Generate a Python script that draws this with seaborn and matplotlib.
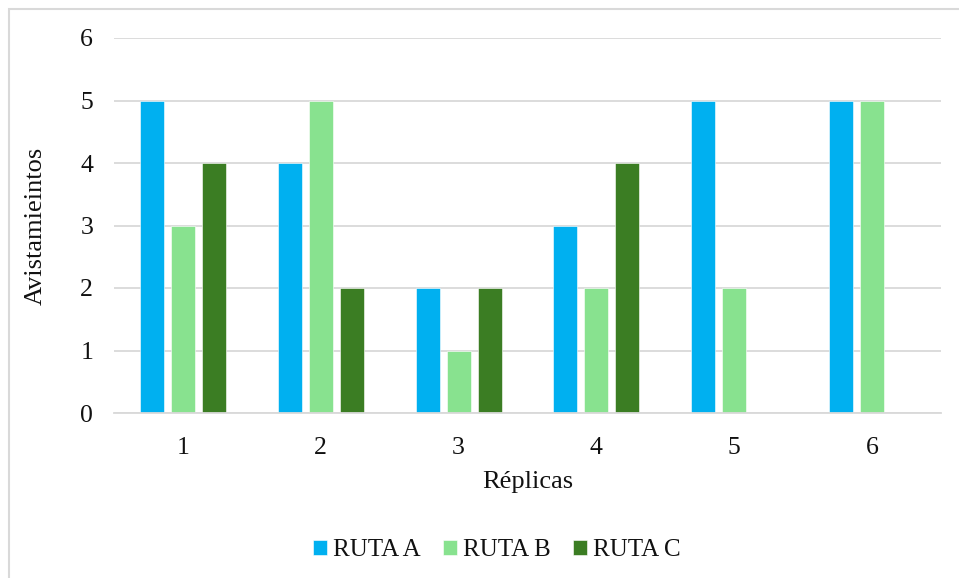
import matplotlib
matplotlib.use("Agg")
import matplotlib.pyplot as plt
from matplotlib.patches import Rectangle
import pandas as pd
import seaborn as sns

# datos
replicas = ["1", "2", "3", "4", "5", "6"]
ruta_a = [5, 4, 2, 3, 5, 5]
ruta_b = [3, 5, 1, 2, 2, 5]
ruta_c = [4, 2, 2, 4, 0, 0]
rutas = ["RUTA A", "RUTA B", "RUTA C"]
colores = ["#00B0F0", "#88E28F", "#3B7D23"]

df = pd.DataFrame({"Réplicas": replicas * 3,
                   "Avistamieintos": ruta_a + ruta_b + ruta_c,
                   "Ruta": [r for r in rutas for _ in replicas]})

sns.set_style("white")
plt.rcParams["font.family"] = ["Liberation Serif", "DejaVu Serif"]

fig = plt.figure(figsize=(9.59, 5.78), dpi=100)
ax = fig.add_axes([114 / 959, 1 - 413 / 578, 827 / 959, 375 / 578])

sns.barplot(data=df, x="Réplicas", y="Avistamieintos", hue="Ruta",
            palette=colores, saturation=1, width=0.675, gap=0.23, ax=ax,
            edgecolor="white", linewidth=0.4, legend=True)

ax.set_ylim(0, 6)
ax.set_yticks(range(0, 7))
ax.set_xlim(-0.5, 5.5)
ax.yaxis.grid(True, color="#D9D9D9", linewidth=1.3)
ax.set_axisbelow(True)
for s in ["top", "right", "left"]:
    ax.spines[s].set_visible(False)
ax.spines["bottom"].set_color("#D9D9D9")
ax.spines["bottom"].set_linewidth(1.3)
ax.tick_params(axis="both", length=0, labelsize=18.5, colors="#111111")
ax.tick_params(axis="y", pad=15)
ax.tick_params(axis="x", pad=17)
ax.set_xlabel("Réplicas", fontsize=19, labelpad=9, color="#111111")
ax.set_ylabel("Avistamieintos", fontsize=19, labelpad=24, color="#111111")

ax.legend(loc="center", bbox_to_anchor=(0.463, -0.365), ncol=3, frameon=False,
          fontsize=18, handlelength=0.55, handleheight=0.55,
          handletextpad=0.25, columnspacing=0.9)
for t in ax.get_legend().get_texts():
    t.set_color("#111111")

# borde del grafico (solo arriba e izquierda visibles)
fig.patches.append(Rectangle((9 / 959, -0.1), 1.2, 1 - 9 / 578 + 0.1,
                             transform=fig.transFigure, fill=False,
                             edgecolor="#D9D9D9", linewidth=1.5))

fig.savefig("out.png", dpi=100)
